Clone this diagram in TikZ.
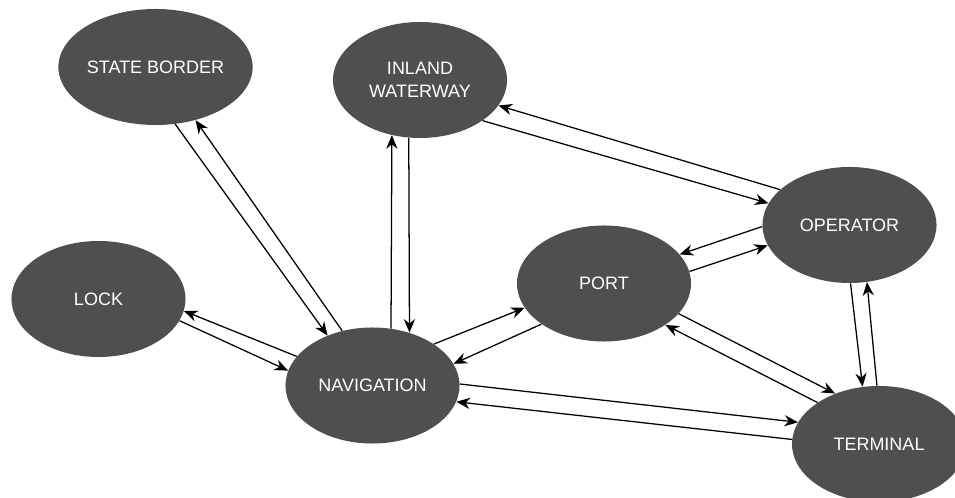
\documentclass[tikz,border=0pt]{standalone}
\usepackage{fontspec}
\setmainfont{Liberation Sans}
\usetikzlibrary{shapes.geometric,arrows.meta}
\definecolor{nodegray}{HTML}{4F4F4F}

\begin{document}
\begin{tikzpicture}[x=0.025cm,y=-0.025cm,
    entity/.style={ellipse,fill=nodegray,text=white,minimum width=4.35cm,
      minimum height=2.9cm,inner sep=0pt,align=center,
      font=\fontsize{12.8}{16.5}\selectfont},
    link/.style={line width=0.9pt,-{Stealth[length=3.4mm,width=2.8mm]}}]
          \useasboundingbox (0,0) rectangle (955,498);

          \node[entity] (border) at (155.5,67) {STATE BORDER};
          \node[entity] (inland) at (420,80) {INLAND\\WATERWAY};
          \node[entity] (lock) at (98.5,299) {LOCK};
          \node[entity] (port) at (604,283.5) {PORT};
          \node[entity] (operator) at (849.5,225) {OPERATOR};
          \node[entity] (nav) at (372.5,385.5) {NAVIGATION};
          \node[entity] (terminal) at (879,444) {TERMINAL};

          \draw[link] (border.-71.4) -- (nav.132.1);
          \draw[link] (nav.119.5) -- (border.-53.7);

          \draw[link] (nav.72.2) -- (inland.-117.9);
          \draw[link] (inland.-101.8) -- (nav.55.9);

          \draw[link] (inland.-33.7) -- (operator.165.1);
          \draw[link] (operator.153.6) -- (inland.-18.8);

          \draw[link] (lock.-15.8) -- (nav.170);
          \draw[link] (nav.159.7) -- (lock.-8.4);

          \draw[link] (nav.34.2) -- (port.197.1);
          \draw[link] (port.-147) -- (nav.15.9);

          \draw[link] (operator.181.3) -- (port.21.4);
          \draw[link] (port.8.3) -- (operator.194.3);

          \draw[link] (port.-22.5) -- (terminal.131.2);
          \draw[link] (terminal.146.7) -- (port.-34.2);

          \draw[link] (operator.-89.5) -- (terminal.106.3);
          \draw[link] (terminal.92) -- (operator.-73.5);

          \draw[link] (nav.1) -- (terminal.165.8);
          \draw[link] (terminal.177.4) -- (nav.-11);

          \end{tikzpicture}
\end{document}
